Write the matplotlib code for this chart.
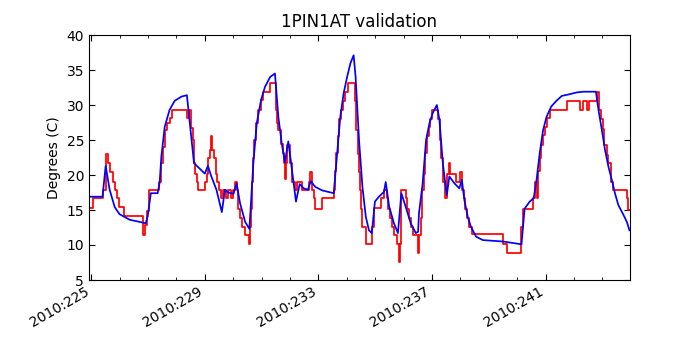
import matplotlib
matplotlib.use("Agg")
import matplotlib.pyplot as plt
from matplotlib.ticker import MultipleLocator, FuncFormatter

title = "1PIN1AT validation"
ylabel = "Degrees (C)"

# Model (blue) - day of year 2010, temperature degC
model_day = [224.91, 225.40, 225.51, 225.65, 225.83, 226.00, 226.36, 226.71, 226.92, 226.99,
             227.10, 227.34, 227.41, 227.47, 227.59, 227.76, 227.94, 228.18, 228.37, 228.62,
             229.00, 229.11, 229.23, 229.41, 229.60, 229.71, 229.83, 230.01, 230.12, 230.24,
             230.42, 230.57, 230.71, 230.83, 230.98, 231.12, 231.30, 231.47, 231.59, 231.71,
             231.82, 231.94, 232.07, 232.21, 232.34, 232.48, 232.63, 232.73, 232.89, 233.13,
             233.54, 233.65, 233.77, 233.89, 234.01, 234.13, 234.24, 234.31, 234.43, 234.55,
             234.67, 234.78, 234.88, 234.99, 235.13, 235.31, 235.37, 235.49, 235.66, 235.80,
             235.92, 236.07, 236.25, 236.43, 236.51, 236.54, 236.67, 236.79, 236.91, 237.02,
             237.17, 237.26, 237.38, 237.52, 237.61, 237.79, 237.96, 238.05, 238.14, 238.26,
             238.37, 238.55, 238.79, 239.14, 239.50, 240.15, 240.26, 240.44, 240.58, 240.68,
             240.79, 240.91, 241.03, 241.20, 241.38, 241.57, 241.80, 242.10, 242.33, 242.77,
             242.86, 242.98, 243.09, 243.21, 243.33, 243.44, 243.56, 243.74, 243.86, 243.95]
model_temp = [16.9, 16.9, 21.3, 17.9, 15.4, 14.4, 13.6, 13.3, 13.1, 14.1,
              17.4, 17.4, 18.9, 22.6, 26.9, 29.3, 30.6, 31.2, 31.4, 21.7,
              20.2, 21.3, 19.8, 17.9, 14.7, 17.9, 17.5, 17.3, 18.8, 16.0,
              13.3, 12.3, 21.7, 27.4, 30.7, 32.6, 34.0, 34.5, 28.3, 24.5,
              21.8, 24.8, 20.7, 16.2, 18.7, 18.1, 17.9, 19.1, 18.3, 17.8,
              17.4, 22.6, 28.3, 31.7, 34.0, 36.0, 37.1, 34.0, 25.0, 18.3,
              14.0, 12.1, 11.7, 16.2, 16.9, 17.6, 19.0, 15.5, 13.1, 11.7,
              17.4, 15.5, 13.1, 11.7, 11.9, 14.5, 18.8, 25.0, 27.4, 28.8,
              30.0, 27.9, 21.7, 17.1, 19.8, 18.8, 18.1, 19.3, 16.4, 14.0,
              12.6, 11.2, 10.7, 10.6, 10.5, 10.1, 15.2, 16.2, 16.7, 19.3,
              23.1, 26.4, 28.3, 29.8, 30.6, 31.3, 31.5, 31.8, 31.9, 31.9,
              29.3, 26.4, 23.6, 21.2, 19.3, 17.4, 15.7, 14.3, 13.3, 12.1]

# Telemetry (red, stepped)
tlm_day = [224.91, 225.05, 225.40, 225.52, 225.61, 225.68, 225.76, 225.84, 225.91, 225.99,
           226.14, 226.81, 226.84, 226.89, 226.95, 227.05, 227.38, 227.45, 227.53, 227.61,
           227.68, 227.76, 227.85, 228.37, 228.45, 228.53, 228.58, 228.62, 228.67, 228.74,
           228.76, 229.02, 229.07, 229.12, 229.17, 229.21, 229.27, 229.32, 229.38, 229.44,
           229.50, 229.56, 229.63, 229.76, 229.82, 229.94, 230.00, 230.06, 230.12, 230.18,
           230.24, 230.32, 230.42, 230.54, 230.59, 230.63, 230.66, 230.70, 230.73, 230.80,
           230.89, 230.97, 231.06, 231.30, 231.51, 231.55, 231.59, 231.68, 231.74, 231.79,
           231.82, 231.87, 231.91, 232.01, 232.07, 232.19, 232.25, 232.42, 232.66, 232.72,
           232.78, 232.83, 232.87, 233.11, 233.54, 233.57, 233.62, 233.68, 233.74, 233.80,
           233.85, 233.95, 234.03, 234.28, 234.33, 234.38, 234.43, 234.47, 234.51, 234.55,
           234.67, 234.90, 234.96, 235.19, 235.31, 235.40, 235.45, 235.51, 235.58, 235.66,
           235.78, 235.82, 235.87, 235.92, 236.07, 236.13, 236.19, 236.25, 236.33, 236.49,
           236.54, 236.60, 236.66, 236.72, 236.76, 236.81, 236.88, 236.94, 236.99, 237.22,
           237.27, 237.32, 237.38, 237.46, 237.54, 237.59, 237.64, 237.84, 237.99, 238.06,
           238.12, 238.17, 238.22, 238.29, 238.41, 239.50, 239.64, 240.15, 240.21, 240.56,
           240.64, 240.70, 240.73, 240.79, 240.85, 240.91, 240.97, 241.05, 241.14, 241.74,
           242.21, 242.31, 242.45, 242.51, 242.80, 242.89, 242.95, 243.01, 243.07, 243.15,
           243.21, 243.30, 243.38, 243.86, 243.91, 243.96]
tlm_temp = [15.3, 16.7, 17.9, 23.0, 21.7, 20.5, 19.0, 17.9, 16.7, 15.5,
            14.1, 12.9, 11.5, 12.9, 14.8, 17.9, 19.0, 21.7, 24.0, 26.4,
            27.4, 28.1, 29.3, 28.1, 29.3, 26.7, 25.0, 21.7, 20.2, 19.0,
            17.9, 19.0, 20.2, 22.4, 23.6, 25.6, 23.6, 22.4, 20.2, 19.0,
            17.9, 16.7, 17.9, 16.7, 17.9, 16.7, 17.9, 19.0, 17.9, 15.2,
            13.8, 12.6, 11.4, 10.2, 12.6, 15.2, 19.0, 22.4, 25.0, 27.4,
            29.3, 30.7, 31.9, 33.2, 29.3, 27.4, 26.4, 24.5, 23.1, 21.7,
            19.5, 21.7, 24.3, 21.7, 19.0, 17.9, 19.0, 17.9, 19.0, 20.5,
            17.9, 16.7, 15.2, 16.7, 17.9, 20.6, 23.1, 25.6, 28.0, 29.3,
            30.6, 31.9, 33.2, 30.6, 26.4, 23.0, 20.5, 17.9, 15.2, 12.6,
            10.2, 12.6, 15.3, 16.7, 17.9, 16.7, 15.2, 13.8, 12.6, 11.4,
            10.2, 7.6, 10.2, 17.9, 16.7, 15.2, 13.8, 12.6, 11.4, 8.9,
            11.4, 13.8, 17.9, 20.2, 23.1, 25.6, 26.8, 28.0, 29.3, 28.0,
            25.0, 22.4, 19.0, 16.7, 20.2, 21.7, 20.2, 19.0, 20.5, 17.9,
            16.7, 15.2, 13.8, 12.6, 11.6, 10.2, 8.9, 12.6, 15.2, 16.7,
            19.0, 16.7, 20.6, 22.4, 24.3, 25.7, 26.9, 28.1, 29.3, 30.6,
            29.3, 30.6, 29.3, 30.6, 31.9, 29.3, 28.0, 26.6, 24.3, 22.9,
            21.7, 19.0, 17.9, 16.7, 15.0, 15.0]

xticks = [225, 229, 233, 237, 241]

fig = plt.figure(figsize=(7, 3.5), dpi=100)
ax = fig.add_axes([0.127, 0.2, 0.773, 0.7])
ax.plot(tlm_day, tlm_temp, color="red", lw=1.25, drawstyle="steps-post")
ax.plot(model_day, model_temp, color="blue", lw=1.25)

ax.set_xlim(224.92, 243.97)
ax.set_ylim(5, 40)
ax.set_xticks(xticks)
ax.xaxis.set_minor_locator(MultipleLocator(1))
ax.xaxis.set_major_formatter(FuncFormatter(lambda v, p: "2010:%d" % round(v)))
ax.set_yticks(range(5, 41, 5))
ax.tick_params(which="both", direction="in", top=True, right=True, labelsize=10)
ax.tick_params(which="major", length=4)
ax.tick_params(which="minor", length=2)
for lab in ax.get_xticklabels():
    lab.set_rotation(30)
    lab.set_ha("right")
ax.set_title(title, fontsize=12)
ax.set_ylabel(ylabel, fontsize=10)
fig.savefig("out.png", dpi=100)
